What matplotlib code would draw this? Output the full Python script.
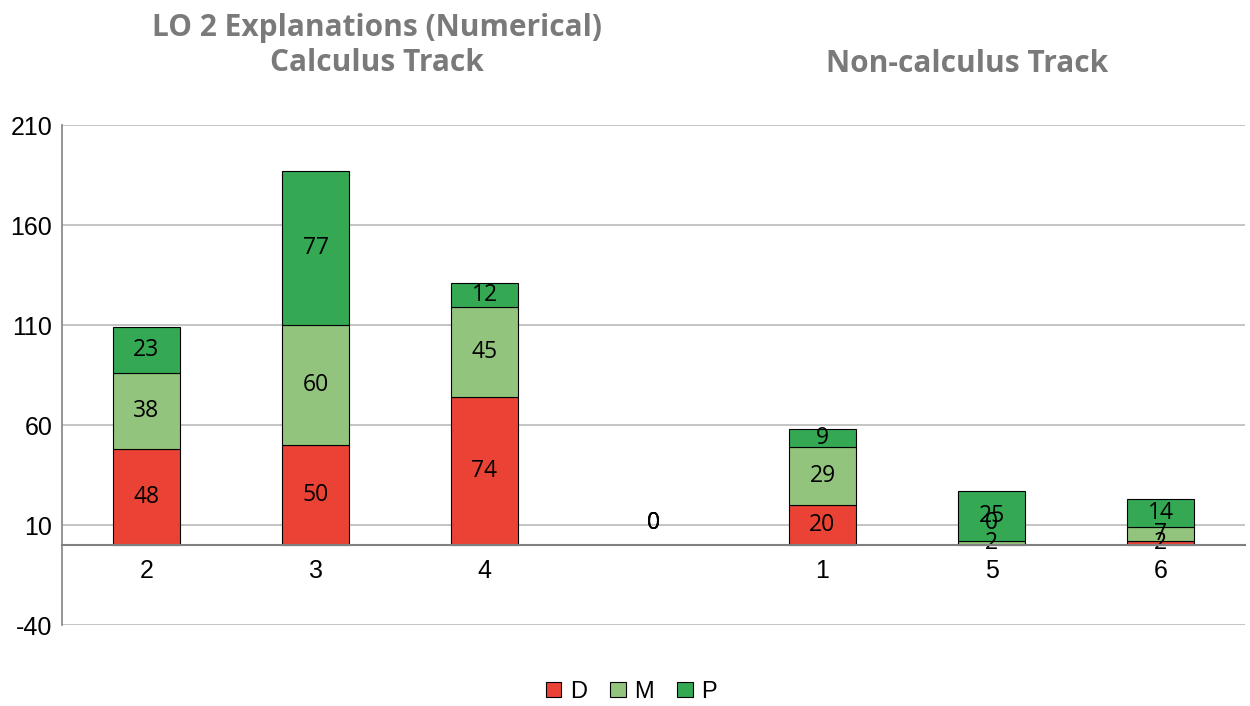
import matplotlib.pyplot as plt
import numpy as np

# stacked counts per group, in drawing order
groups = ['2', '3', '4', '', '1', '5', '6']
d_vals = [48, 50, 74, 0, 20, 0, 2]
m_vals = [38, 60, 45, 0, 29, 2, 7]
p_vals = [23, 77, 12, 0, 9, 25, 14]
series = [('D', d_vals, '#ea4335'), ('M', m_vals, '#93c47d'), ('P', p_vals, '#34a853')]
yticks = [-40, 10, 60, 110, 160, 210]

fig = plt.figure(figsize=(12.5, 7.06), dpi=100)
ax = fig.add_axes([0.0496, 0.1147, 0.9464, 0.708])

x = np.arange(len(groups))
base = np.zeros(len(groups))
for name, vals, col in series:
    vals = np.array(vals, dtype=float)
    lw = [0.8 if v > 0 else 0 for v in vals]
    ax.bar(x, vals, 0.4, bottom=base, color=col, edgecolor='black', linewidth=lw, label=name, zorder=3)
    for xi, b, v in zip(x, base, vals):
        off = 16 if v == 0 else 0
        ax.annotate('%d' % v, (xi, b + v / 2), xytext=(0, off), textcoords='offset points',
                    ha='center', va='center', fontsize=16.5, family='Open Sans', zorder=4)
    base += vals

# x axis sits on zero; set it before the tick labels so they keep their style
ax.spines['bottom'].set_position(('data', 0))
ax.spines['bottom'].set_color('#808080')
ax.spines['bottom'].set_linewidth(1.5)
ax.spines['bottom'].set_zorder(5)
ax.spines['left'].set_color('#8c8c8c')
ax.spines['left'].set_linewidth(1.3)
ax.spines['top'].set_visible(False)
ax.spines['right'].set_visible(False)

ax.set_xlim(-0.5, len(groups) - 0.5)
ax.set_ylim(-40, 210)
ax.set_yticks(yticks)
ax.set_yticklabels([str(t) for t in yticks], fontsize=18, family='Liberation Sans')
ax.yaxis.grid(True, color='#bfbfbf', linewidth=1.3, zorder=0)
ax.tick_params(axis='y', length=0, pad=7)

ax.set_xticks(x)
ax.set_xticklabels(groups, fontsize=18, family='Liberation Sans')
ax.tick_params(axis='x', length=0, pad=10)

fig.text(0.3016, 0.935, 'LO 2 Explanations (Numerical)\nCalculus Track', ha='center', va='center',
         fontsize=21.5, fontweight='bold', color='#7a7a7a', family='Open Sans', linespacing=1.22)
fig.text(0.774, 0.910, 'Non-calculus Track', ha='center', va='center',
         fontsize=21.5, fontweight='bold', color='#7a7a7a', family='Open Sans')

fig.legend(loc='center', bbox_to_anchor=(0.505, 0.02), ncol=3, frameon=False,
           prop={'family': 'Liberation Sans', 'size': 17}, handlelength=0.65, handleheight=0.65,
           handletextpad=0.35, columnspacing=1.0)

fig.savefig('out.png', dpi=100)
